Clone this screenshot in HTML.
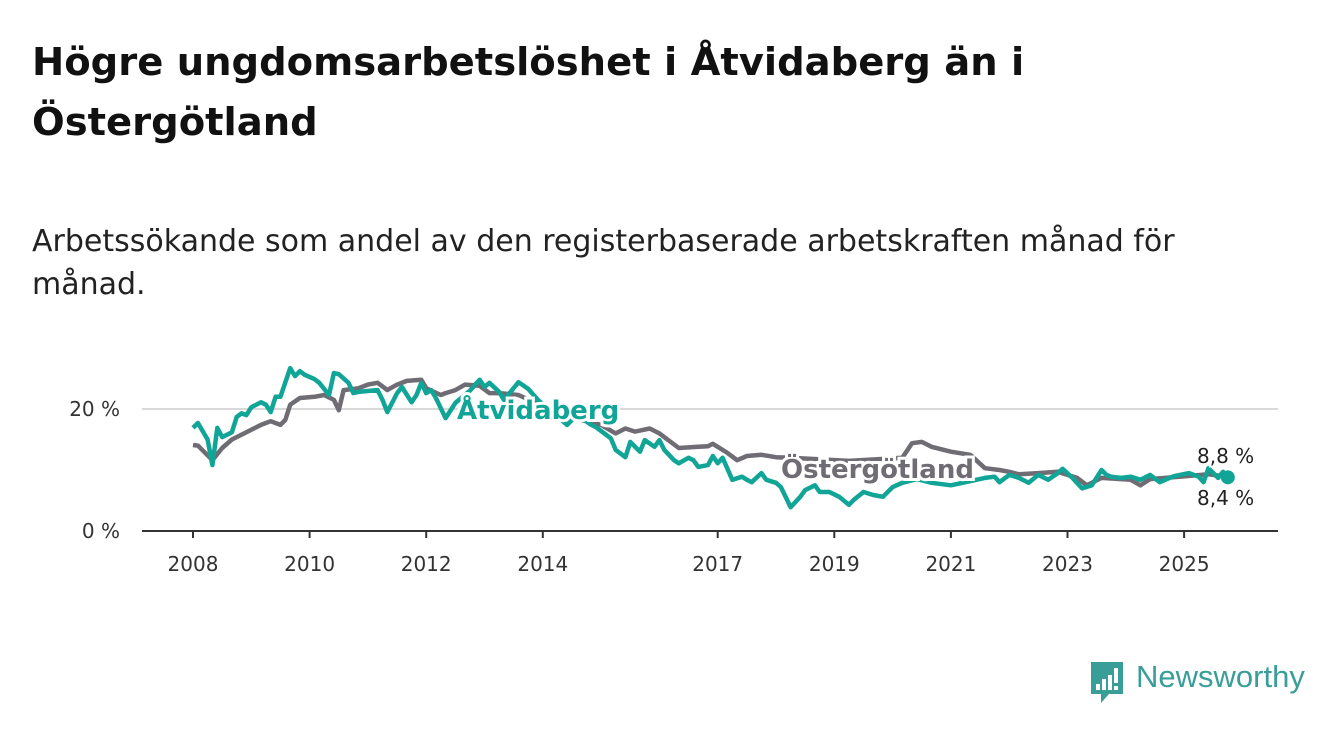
<!DOCTYPE html>
<html><head><meta charset="utf-8">
<style>
body{margin:0;background:#fff;width:1340px;height:734px;overflow:hidden;font-family:"DejaVu Sans","Liberation Sans",sans-serif;}
h1{position:absolute;left:32px;top:33px;margin:0;font-size:38.5px;line-height:60px;font-weight:bold;color:#111;white-space:nowrap;}
.sub{position:absolute;left:32px;top:220px;margin:0;font-size:30px;line-height:43px;color:#222;white-space:nowrap;}
svg{position:absolute;left:0;top:0;}
</style></head><body>
<h1>Högre ungdomsarbetslöshet i Åtvidaberg än i<br>Östergötland</h1>
<p class="sub">Arbetssökande som andel av den registerbaserade arbetskraften månad för<br>månad.</p>
<svg id="chart" width="1340" height="734"></svg>
<script>
const yTicks=[0,20];
const yTickLabels=["0 %","20 %"];
const xTickYears=[2008,2010,2012,2014,2017,2019,2021,2023,2025];
const ostMonths=[0,1,4,6,8,11,14,16,18,19,20,22,25,27,29,30,31,34,36,38,40,42,44,47,48,51,52,54,56,59,61,63,67,76,84,87,89,91,94,96,100,104,106,107,110,112,114,117,120,123,135,146,148,150,152,156,160,163,166,168,170,174,178,182,184,187,193,195,197,203,209,212,213];
const ostValues=[14.1,14,11.6,13.6,15,16.2,17.4,18,17.4,18.2,20.7,21.8,22,22.3,21.5,19.8,23.1,23.4,24,24.3,23.1,24,24.6,24.8,23.4,22.3,22.6,23.1,24,23.8,22.6,22.6,22.3,19,17.4,16,16.8,16.3,16.8,16,13.6,13.8,13.9,14.3,12.8,11.6,12.3,12.5,12.1,12,11.5,12,14.4,14.6,13.8,13,12.5,10.3,10,9.7,9.3,9.5,9.7,8.7,7.5,8.7,8.4,7.5,8.5,8.9,9.3,9,8.4];
const atvMonths=[0,1,3,4,5,6,8,9,10,11,12,14,15,16,17,18,20,21,22,23,25,26,28,29,30,32,33,34,38,39,40,42,43,45,46,47,48,49,50,52,54,57,59,60,61,63,64,67,69,71,77,79,82,83,86,87,89,90,92,93,95,96,97,99,100,102,103,104,106,107,108,109,111,113,114,115,117,118,120,121,123,125,126,128,129,131,133,135,136,138,140,142,144,146,149,152,156,159,163,165,166,168,170,172,174,176,178,179,181,183,185,187,188,189,191,193,195,197,199,201,202,205,207,208,209,211,212,213];
const atvValues=[16.9,17.7,15,10.8,16.9,15.4,16.2,18.7,19.3,19,20.3,21.1,20.7,19.5,22,22,26.7,25.4,26.2,25.6,24.9,24.3,22.3,25.9,25.7,24.3,22.6,22.8,23.1,21.5,19.5,22.6,23.6,21.1,22.3,24.3,22.6,23.1,21.8,18.5,21,23,24.8,23.6,24.3,22.8,21.5,24.4,23.3,21.5,17.4,19,17.4,17,15.2,13.3,12.1,14.6,13,14.9,13.8,14.9,13.3,11.6,11.1,12,11.6,10.5,10.8,12.3,11.1,12,8.4,8.9,8.4,8,9.5,8.4,7.9,7.2,3.9,5.6,6.7,7.5,6.4,6.4,5.6,4.3,5.1,6.4,5.9,5.6,7.2,7.9,8.5,7.9,7.5,8,8.7,8.9,8,9.2,8.7,7.9,9.2,8.4,9.5,10.2,8.7,7,7.5,10,9.2,8.9,8.7,8.9,8.4,9.2,8,8.7,9,9.5,8.9,8,10.3,8.7,9.7,8.8];
const endLabels=["8,8 %","8,4 %"];

const NS="http://www.w3.org/2000/svg";
const svg=document.getElementById('chart');
const FONT='DejaVu Sans, Liberation Sans, sans-serif';
const X0=193, PXM=58.3/12, Y0=531, PXV=6.1;
function xm(m){return X0+m*PXM;}
function xy(yr){return X0+(yr-2008)*58.3;}
function yv(v){return Y0-v*PXV;}
function mk(tag,attrs){const e=document.createElementNS(NS,tag);for(const k in attrs)e.setAttribute(k,attrs[k]);svg.appendChild(e);return e;}

yTicks.forEach((t,i)=>{
  if(t>0){const g=mk('line',{x1:142,x2:1278,y1:yv(t),y2:yv(t),stroke:'#d9d9d9','stroke-width':2});
  
  }
  const tx=mk('text',{x:120,y:yv(t)+7,'text-anchor':'end','font-size':20,fill:'#333','font-family':FONT});
  tx.textContent=yTickLabels[i];
  
  
});
const ax=mk('line',{x1:142,x2:1278,y1:Y0,y2:Y0,stroke:'#333','stroke-width':2});


xTickYears.forEach(yr=>{
  const tk=mk('line',{x1:xy(yr),x2:xy(yr),y1:Y0,y2:Y0+7,stroke:'#333','stroke-width':2});
  
  
  const tx=mk('text',{x:xy(yr),y:571,'text-anchor':'middle','font-size':20,fill:'#333','font-family':FONT});
  tx.textContent=yr;
  
  
});
function line(ms,vs,color,name){
  const d=ms.map((m,i)=>(i?'L':'M')+xm(m).toFixed(1)+','+yv(vs[i]).toFixed(1)).join('');
  const p=mk('path',{d:d,fill:'none',stroke:color,'stroke-width':4.5,'stroke-linejoin':'round'});
  
  
}
line(ostMonths,ostValues,'#6f6c74','ostergotland-line');
line(atvMonths,atvValues,'#10a596','atvidaberg-line');
const lm=atvMonths[atvMonths.length-1], lv=atvValues[atvValues.length-1];
const dot=mk('circle',{cx:xm(lm),cy:yv(lv),r:7,fill:'#10a596'});


function lbl(txt,x,y,color,name){
  const t=mk('text',{x:x,y:y,'font-size':26,'font-weight':'bold',fill:color,stroke:'#fff','stroke-width':6,'paint-order':'stroke','font-family':FONT});
  t.textContent=txt;
  
  
}
lbl('Åtvidaberg',457,419,'#10a596','atvidaberg-label');
lbl('Östergötland',781,478,'#6f6c74','ostergotland-label');
endLabels.forEach((s,i)=>{
  const t=mk('text',{x:1197,y:i?505:463,'font-size':20,fill:'#222',stroke:'#fff','stroke-width':4,'paint-order':'stroke','font-family':FONT});
  t.textContent=s;
  
  
});
</script>
<div style="position:absolute;left:1089px;top:662px;">
<svg width="36" height="42" style="position:absolute;left:0;top:0">
<path d="M2 0H34V32H20L12 41V32H2Z" fill="#3a9e98"/>
<rect x="7" y="22" width="4" height="6" fill="#fff"/><rect x="13" y="17" width="4" height="11" fill="#fff"/><rect x="19" y="13" width="4" height="15" fill="#fff"/><rect x="25" y="6" width="4" height="15" fill="#fff"/><rect x="25" y="24" width="4" height="4" fill="#fff"/>
</svg>
<span style="position:absolute;left:47px;top:-3px;font-family:'Liberation Sans',sans-serif;font-size:31px;color:#3a9e98;white-space:nowrap;">Newsworthy</span>
</div>
</body></html>
